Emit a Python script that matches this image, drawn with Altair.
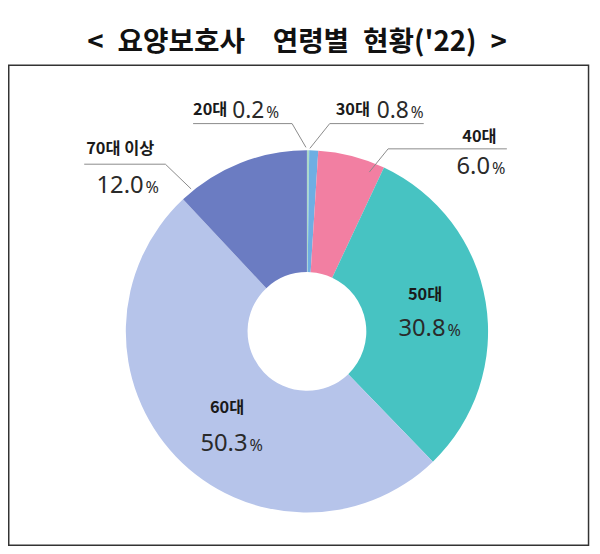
import altair as alt
import pandas as pd

# ---- data ----
ages = ["20대", "30대", "40대", "50대", "60대", "70대 이상"]
shares = [0.2, 0.8, 6.0, 30.8, 50.3, 12.0]
title_text = "<\u2002요양보호사\u2003연령별\u2002현황('22)\u2002>"

# ---- styles ----
colors = ["#acd9c9", "#6eaee3", "#f27fa2", "#47c3c2", "#b6c4ea", "#6b7cc2"]

# ---- layout (pixel positions of labels, chart coords) ----
name_x = [187, 331, 459, 404, 204, 79]
name_y = [105, 105, 133, 292, 406, 145]
num_x = [259, 405, 487, 442, 242, 137]
num_y = [108, 108, 165, 329, 445, 184]
num_size = [23, 23, 24, 24, 24, 24]

# leader lines: (x, y, x2, y2)
lead_x = [187, 287, 325, 325, 384, 384, 77, 159]
lead_y = [114, 114, 114, 114, 139.5, 139.5, 155, 155]
lead_x2 = [287, 301, 420, 305, 504, 365, 159, 185]
lead_y2 = [114, 138, 114, 139, 139.5, 163, 155, 180]

df = pd.DataFrame({"age": ages, "share": shares, "idx": list(range(len(ages)))})
lab = pd.DataFrame({
    "age": ages,
    "num": [f"{v:.1f}" for v in shares],
    "pct": ["%"] * len(ages),
    "nx": name_x, "ny": name_y,
    "vx": num_x, "vy": num_y,
    "px": [v + 2 for v in num_x],
    "vs": num_size,
    "ps": [round(s * 0.68, 1) for s in num_size],
})
leads = pd.DataFrame({"x": lead_x, "y": lead_y, "x2": lead_x2, "y2": lead_y2})

frame = alt.Chart(pd.DataFrame({"a": [0]})).mark_rect(
    fillOpacity=0, stroke="#333333", strokeWidth=1.5
).encode(x=alt.value(0.75), x2=alt.value(586.5), y=alt.value(55), y2=alt.value(540))

title = alt.Chart(pd.DataFrame({"t": [title_text]})).mark_text(
    font="Noto Sans CJK KR", fontWeight="bold", fontSize=28, color="#111111",
    align="center", baseline="alphabetic"
).encode(x=alt.value(292), y=alt.value(41), text="t:N")

arc = alt.Chart(df).mark_arc(radius=183, radius2=60).encode(
    theta=alt.Theta("share:Q", stack=True),
    order=alt.Order("idx:Q"),
    color=alt.Color("age:N", scale=alt.Scale(domain=ages, range=colors), legend=None),
    x=alt.value(302), y=alt.value(324),
)

rules = alt.Chart(leads).mark_rule(color="#8a8a8a", strokeWidth=1).encode(
    x=alt.X("x:Q", scale=None), y=alt.Y("y:Q", scale=None),
    x2="x2:Q", y2="y2:Q",
)

names = alt.Chart(lab).mark_text(
    font="Noto Sans CJK KR", fontWeight="bold", fontSize=16.5, color="#1a1a1a",
    align="left", baseline="alphabetic"
).encode(x=alt.X("nx:Q", scale=None), y=alt.Y("ny:Q", scale=None), text="age:N")

nums = alt.Chart(lab).mark_text(
    font="Noto Sans", fontWeight="normal", color="#2a2a2a",
    align="right", baseline="alphabetic"
).encode(x=alt.X("vx:Q", scale=None), y=alt.Y("vy:Q", scale=None),
         size=alt.Size("vs:Q", scale=None), text="num:N")

pcts = alt.Chart(lab).mark_text(
    font="Noto Sans", fontWeight="normal", color="#2a2a2a",
    align="left", baseline="alphabetic"
).encode(x=alt.X("px:Q", scale=None), y=alt.Y("vy:Q", scale=None),
         size=alt.Size("ps:Q", scale=None), text="pct:N")

chart = alt.layer(frame, title, arc, rules, names, nums, pcts).properties(
    width=590, height=544, padding=0, autosize="none", background="white"
).configure_view(stroke=None)

chart.save("out.html", embed_options={"renderer": "svg", "actions": False})
